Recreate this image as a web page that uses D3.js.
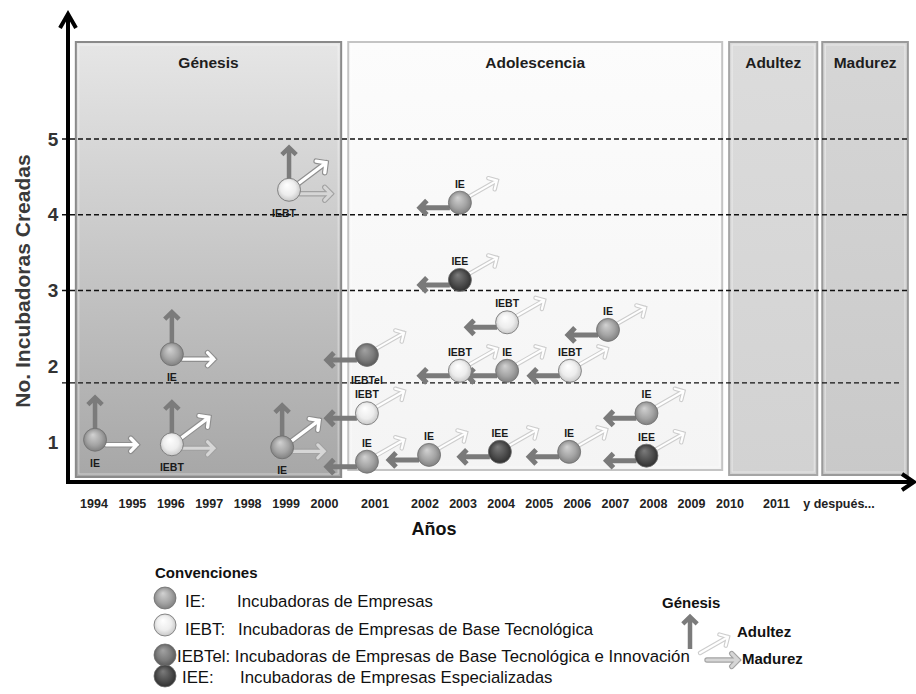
<!DOCTYPE html>
<html>
<head>
<meta charset="utf-8">
<script src="https://cdn.jsdelivr.net/npm/d3@7"></script>
<style>
  body { margin: 0; background: #fff; }
  svg { display: block; font-family: "Liberation Sans", Arial, sans-serif; }
</style>
</head>
<body>
<div id="chart"></div>
<script>
// tick values / labels
var countTicks = [1, 2, 3, 4, 5];
var gridCounts = [5, 4, 3, 1.78];
var yearTicks = [1994, 1995, 1996, 1997, 1998, 1999, 2000, 2001, 2002, 2003, 2004,
                 2005, 2006, 2007, 2008, 2009, 2010, 2011, 2012];
var yearLabels = ["1994", "1995", "1996", "1997", "1998", "1999", "2000", "2001", "2002",
                  "2003", "2004", "2005", "2006", "2007", "2008", "2009", "2010", "2011",
                  "y después..."];

// stages and the years they span
var stageNames = ["Génesis", "Adolescencia", "Adultez", "Madurez"];
var stageFrom = [1993.54, 2000.48, 2009.99, 2011.74];
var stageTo = [2000.34, 2009.81, 2011.66, 2013.11];

// incubator types
var typeCodes = ["IE", "IEBT", "IEBTel", "IEE"];
var typeNames = ["Incubadoras de Empresas",
                 "Incubadoras de Empresas de Base Tecnológica",
                 "Incubadoras de Empresas de Base Tecnológica e Innovación",
                 "Incubadoras de Empresas Especializadas"];

// incubators created during Génesis
var genesisYear = [1994.04, 1996.04, 1996.04, 1998.91, 1999.09];
var genesisCount = [1.03, 0.97, 2.16, 0.93, 4.33];
var genesisType = ["IE", "IEBT", "IE", "IE", "IEBT"];
var genesisMoves = [["up", "rightW"], ["up", "diag", "right"], ["up", "rightW"],
                    ["up", "diag", "right"], ["up", "diag", "right"]];

// incubators created during Adolescencia
var adolYear = [2000.85, 2000.85, 2000.85, 2002.12, 2003.98, 2005.8, 2007.83, 2007.83,
                2002.93, 2004.17, 2005.82, 2004.17, 2006.82, 2002.93, 2002.93];
var adolCount = [0.74, 1.38, 2.15, 0.83, 0.87, 0.87, 0.82, 1.38,
                 1.94, 1.94, 1.94, 2.58, 2.48, 3.14, 4.16];
var adolType = ["IE", "IEBT", "IEBTel", "IE", "IEE", "IE", "IEE", "IE",
                "IEBT", "IE", "IEBT", "IEBT", "IE", "IEE", "IE"];

var W = 916, H = 694, R = 11.5;
var panelTop = 42;

var svg = d3.select("#chart").append("svg")
    .attr("width", W)
    .attr("height", H);
var defs = svg.append("defs");

var x = d3.scaleLinear()
    .domain([1994, 2000, 2001, 2002, 2009, 2010, 2011, 2012])
    .range([93.5, 324, 374.5, 424.5, 691, 729.5, 776, 838.5]);
var y = d3.scaleLinear().domain([1, 5]).range([442, 139]);

// gradients
function linGrad(id, c0, c1) {
  var g = defs.append("linearGradient").attr("id", id)
      .attr("x1", 0).attr("y1", 0).attr("x2", 0).attr("y2", 1);
  g.append("stop").attr("offset", "0%").attr("stop-color", c0);
  g.append("stop").attr("offset", "100%").attr("stop-color", c1);
}
linGrad("g-gen", "#e6e6e6", "#a7a7a7");
linGrad("g-ado", "#fcfcfc", "#f4f4f4");
linGrad("g-adu", "#dcdcdc", "#d2d2d2");
linGrad("g-mad", "#d6d6d6", "#c9c9c9");

var sphereColors = {
  IE: ["#d2d2d2", "#a4a4a4", "#7a7a7a"],
  IEBT: ["#ffffff", "#ededed", "#c2c2c2"],
  IEBTel: ["#a3a3a3", "#7b7b7b", "#535353"],
  IEE: ["#7c7c7c", "#4d4d4d", "#2b2b2b"]
};
typeCodes.forEach(function(t) {
  var g = defs.append("radialGradient").attr("id", "s-" + t)
      .attr("cx", "50%").attr("cy", "50%").attr("r", "55%")
      .attr("fx", "40%").attr("fy", "28%");
  g.append("stop").attr("offset", "0%").attr("stop-color", sphereColors[t][0]);
  g.append("stop").attr("offset", "60%").attr("stop-color", sphereColors[t][1]);
  g.append("stop").attr("offset", "100%").attr("stop-color", sphereColors[t][2]);
});

// stage panels
var panelFill = ["url(#g-gen)", "url(#g-ado)", "url(#g-adu)", "url(#g-mad)"];
var panelStroke = ["#8a8a8a", "#c4c4c4", "#a6a6a6", "#9a9a9a"];
var panelBottom = [477, 470, 475, 475];

var panels = svg.append("g").selectAll("g")
  .data(stageNames)
  .enter().append("g");

panels.append("rect")
    .attr("x", function(d, i) { return x(stageFrom[i]); })
    .attr("y", panelTop)
    .attr("width", function(d, i) { return x(stageTo[i]) - x(stageFrom[i]); })
    .attr("height", function(d, i) { return panelBottom[i] - panelTop; })
    .attr("fill", function(d, i) { return panelFill[i]; })
    .attr("stroke", function(d, i) { return panelStroke[i]; })
    .attr("stroke-width", 2);

panels.append("rect")
    .attr("x", function(d, i) { return x(stageFrom[i]) + 3; })
    .attr("y", panelTop + 3)
    .attr("width", function(d, i) { return x(stageTo[i]) - x(stageFrom[i]) - 6; })
    .attr("height", function(d, i) { return panelBottom[i] - panelTop - 6; })
    .attr("fill", "none")
    .attr("stroke", "#ffffff")
    .attr("stroke-opacity", 0.45)
    .attr("stroke-width", 1);

panels.append("text")
    .attr("x", function(d, i) { return (x(stageFrom[i]) + x(stageTo[i])) / 2; })
    .attr("y", 68)
    .attr("text-anchor", "middle")
    .attr("font-size", "15.5px")
    .attr("font-weight", "bold")
    .attr("fill", "#1e1e1e")
    .text(function(d) { return d; });

// dashed grid lines
svg.append("g").selectAll("line")
  .data(gridCounts)
  .enter().append("line")
    .attr("x1", 62)
    .attr("x2", function(d, i) { return i === 3 ? 900 : 908; })
    .attr("y1", function(d) { return y(d); })
    .attr("y2", function(d) { return y(d); })
    .attr("stroke", "#111")
    .attr("stroke-width", 1.4)
    .attr("stroke-dasharray", "5,3");

// arrows
var moveStyle = {
  up:     {x1: 0,   y1: -10, x2: 0,   y2: -42, head: 10, under: null,      color: "#7b7b7b", w: 4.5},
  diag:   {x1: 9,   y1: -6,  x2: 37,  y2: -27, head: 10, under: "#8e8e8e", color: "#ffffff", w: 3.4},
  right:  {x1: 11,  y1: 4,   x2: 42,  y2: 4,   head: 9,  under: "#a2a2a2", color: "#d6d6d6", w: 3.2},
  rightW: {x1: 11,  y1: 5,   x2: 42,  y2: 5,   head: 9,  under: "#8e8e8e", color: "#ffffff", w: 3.4},
  left:   {x1: -10, y1: 5,   x2: -40, y2: 5,   head: 10, under: null,      color: "#7a7a7a", w: 5},
  fade:   {x1: 9,   y1: -6,  x2: 37,  y2: -22, head: 9,  under: "#cdcdcd", color: "#fefefe", w: 2.2}
};

function arrowPath(x1, y1, x2, y2, head) {
  var a = Math.atan2(y2 - y1, x2 - x1), s = 0.8;
  var p1 = [x2 - head * Math.cos(a - s), y2 - head * Math.sin(a - s)];
  var p2 = [x2 - head * Math.cos(a + s), y2 - head * Math.sin(a + s)];
  return d3.line()([[x1, y1], [x2, y2]]) + d3.line()([p1, [x2, y2], p2]);
}

function drawArrow(g, cx, cy, kind) {
  var s = moveStyle[kind];
  var d = arrowPath(cx + s.x1, cy + s.y1, cx + s.x2, cy + s.y2, s.head);
  if (s.under) {
    g.append("path").attr("d", d).attr("fill", "none")
      .attr("stroke", s.under).attr("stroke-width", s.w + 2.2)
      .attr("stroke-linecap", "round").attr("stroke-linejoin", "miter");
  }
  g.append("path").attr("d", d).attr("fill", "none")
    .attr("stroke", s.color).attr("stroke-width", s.w)
    .attr("stroke-linecap", s.under ? "round" : "butt").attr("stroke-linejoin", "miter");
}

function drawSphere(g, cx, cy, t, r) {
  g.append("circle")
    .attr("cx", cx).attr("cy", cy).attr("r", r)
    .attr("fill", "url(#s-" + t + ")")
    .attr("stroke", "#6e6e6e")
    .attr("stroke-width", 0.8);
}

function label(g, cx, cy, txt) {
  g.append("text")
    .attr("x", cx).attr("y", cy)
    .attr("text-anchor", "middle")
    .attr("font-size", "10.5px")
    .attr("font-weight", "bold")
    .attr("fill", "#1a1a1a")
    .text(txt);
}

// Génesis incubators
var gGen = svg.append("g");
genesisYear.forEach(function(yr, i) {
  var cx = x(yr), cy = y(genesisCount[i]);
  genesisMoves[i].forEach(function(m) { drawArrow(gGen, cx, cy, m); });
  drawSphere(gGen, cx, cy, genesisType[i], R);
  label(gGen, cx - (i === 4 ? 5 : 0), cy + 27, genesisType[i]);
});

// Adolescencia incubators
var gAdo = svg.append("g");
adolYear.forEach(function(yr, i) {
  var cx = x(yr), cy = y(adolCount[i]);
  drawArrow(gAdo, cx, cy, "fade");
  drawArrow(gAdo, cx, cy, "left");
});
adolYear.forEach(function(yr, i) {
  var cx = x(yr), cy = y(adolCount[i]);
  drawSphere(gAdo, cx, cy, adolType[i], R);
  if (adolType[i] === "IEBTel") label(gAdo, cx, cy + 29, adolType[i]);
  else label(gAdo, cx, cy - 15, adolType[i]);
});

// axes lines with arrowheads
svg.append("path")
    .attr("d", "M68,484L68,15M60,28L68,14L76,28")
    .attr("fill", "none").attr("stroke", "#000").attr("stroke-width", 4)
    .attr("stroke-linejoin", "miter");
svg.append("path")
    .attr("d", "M66,482L911,482M902,474L914,482L902,490")
    .attr("fill", "none").attr("stroke", "#000").attr("stroke-width", 4)
    .attr("stroke-linejoin", "miter");

// y tick labels
var yAxis = svg.append("g")
    .attr("transform", "translate(53,0)")
    .call(d3.axisLeft(y).tickValues(countTicks).tickSize(0).tickPadding(0).tickFormat(d3.format("d")));
yAxis.select(".domain").remove();
yAxis.selectAll("text")
    .attr("x", 0)
    .attr("text-anchor", "middle")
    .attr("font-family", "Liberation Sans, Arial, sans-serif")
    .attr("font-size", "19px")
    .attr("font-weight", "bold")
    .attr("fill", "#333");

// x tick labels
var xAxis = svg.append("g")
    .attr("transform", "translate(0,496)")
    .call(d3.axisBottom(x).tickValues(yearTicks).tickSize(0).tickPadding(3)
      .tickFormat(function(d, i) { return yearLabels[i]; }));
xAxis.select(".domain").remove();
xAxis.selectAll("text")
    .attr("font-family", "Liberation Sans, Arial, sans-serif")
    .attr("font-size", "12.5px")
    .attr("font-weight", "bold")
    .attr("fill", "#222");

// axis titles
svg.append("text")
    .attr("transform", "translate(30,281) rotate(-90)")
    .attr("text-anchor", "middle")
    .attr("font-size", "21px")
    .attr("font-weight", "bold")
    .attr("fill", "#3a3a3a")
    .text("No. Incubadoras Creadas");

svg.append("text")
    .attr("x", 434).attr("y", 535)
    .attr("text-anchor", "middle")
    .attr("font-size", "18px")
    .attr("font-weight", "bold")
    .attr("fill", "#111")
    .text("Años");

// legend
var leg = svg.append("g");
leg.append("text")
    .attr("x", 155).attr("y", 578)
    .attr("font-size", "15px")
    .attr("font-weight", "bold")
    .attr("fill", "#111")
    .text("Convenciones");

var legCy = [598, 625, 655, 676];
var legBase = [607, 635, 662, 683];
var legCodeX = [185, 185, 177, 182];
var legNameX = [237, 238, 0, 240];
typeCodes.forEach(function(t, i) {
  drawSphere(leg, 165, legCy[i], t, 11);
});
typeCodes.forEach(function(t, i) {
  if (t === "IEBTel") {
    leg.append("text").attr("x", legCodeX[i]).attr("y", legBase[i])
      .attr("font-size", "16.8px").attr("fill", "#111")
      .text(t + ": " + typeNames[i]);
  } else {
    leg.append("text").attr("x", legCodeX[i]).attr("y", legBase[i])
      .attr("font-size", "16.8px").attr("fill", "#111")
      .text(t + ":");
    leg.append("text").attr("x", legNameX[i]).attr("y", legBase[i])
      .attr("font-size", "16.8px").attr("fill", "#111")
      .text(typeNames[i]);
  }
});

// arrow legend
drawArrow(leg, 690, 659, "up");
drawArrow(leg, 691, 659, "fade");
drawArrow(leg, 696, 656, "right");
leg.append("text").attr("x", 662).attr("y", 608)
    .attr("font-size", "15px").attr("font-weight", "bold").attr("fill", "#111")
    .text(stageNames[0]);
leg.append("text").attr("x", 737).attr("y", 637)
    .attr("font-size", "15px").attr("font-weight", "bold").attr("fill", "#111")
    .text(stageNames[2]);
leg.append("text").attr("x", 742).attr("y", 664)
    .attr("font-size", "15px").attr("font-weight", "bold").attr("fill", "#111")
    .text(stageNames[3]);
</script>
</body>
</html>
